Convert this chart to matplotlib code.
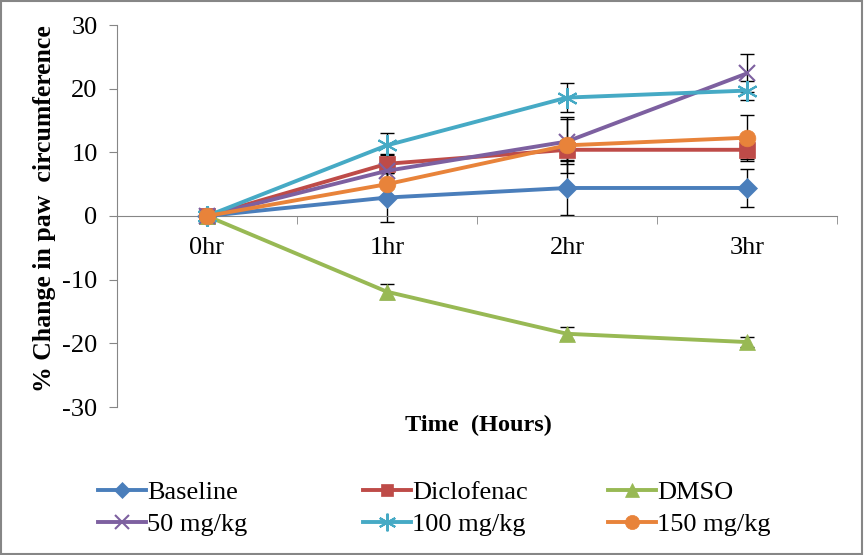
import numpy as np
import matplotlib.pyplot as plt
from matplotlib.patches import Rectangle

# categories
hours = ["0hr", "1hr", "2hr", "3hr"]

# series values (% change in paw circumference)
baseline = [0, 2.9, 4.4, 4.4]
diclofenac = [0, 8.2, 10.4, 10.4]
dmso = [0, -11.9, -18.5, -19.8]
mg50 = [0, 7.1, 11.7, 22.4]
mg100 = [0, 11.1, 18.6, 19.7]
mg150 = [0, 5.0, 11.1, 12.3]

# error bars (SEM)
baseline_err = [0, 3.9, 4.3, 3.0]
diclofenac_err = [0, 1.5, 1.6, 1.5]
dmso_err = [0, 1.2, 1.0, 0.8]
mg50_err = [0, 2.5, 3.5, 3.0]
mg100_err = [0, 2.0, 2.3, 1.5]
mg150_err = [0, 2.0, 4.4, 3.6]

series = [
    ("Baseline", baseline, baseline_err, "#4A7EBB", "D", 10),
    ("Diclofenac", diclofenac, diclofenac_err, "#BE4B48", "s", 11),
    ("DMSO", dmso, dmso_err, "#98B954", "^", 12),
    ("50 mg/kg", mg50, mg50_err, "#7D60A0", "x", 12),
    ("100 mg/kg", mg100, mg100_err, "#46AAC5", (6, 2, 0), 15),
    ("150 mg/kg", mg150, mg150_err, "#E8833A", "o", 12),
]

plt.rcParams["font.family"] = ["Liberation Serif", "DejaVu Serif"]
plt.rcParams["axes.unicode_minus"] = False

fig = plt.figure(figsize=(8.64, 5.55), dpi=100)
ax = fig.add_axes([117 / 864, 1 - 407 / 555, 720 / 864, 382 / 555])

x = np.arange(len(hours))
for name, vals, err, col, mk, ms in series:
    ax.errorbar(x, vals, yerr=err, fmt="none", ecolor="black", elinewidth=1,
                capsize=5, capthick=1, zorder=2)
handles = []
for name, vals, err, col, mk, ms in series:
    line, = ax.plot(x, vals, color=col, linewidth=2.8, marker=mk, markersize=ms,
                    markeredgewidth=1.5 if mk == "x" or isinstance(mk, tuple) else 0.5,
                    markeredgecolor=col, markerfacecolor=col, label=name, zorder=3)
    handles.append(line)

ax.set_xlim(-0.5, 3.5)
ax.set_ylim(-30, 30)
ax.set_yticks(np.arange(-30, 31, 10))
ax.set_xticks(x)
ax.set_xticklabels(hours)
ax.set_xticks(np.arange(-0.5, 3.6, 1), minor=True)

for s in ("top", "right"):
    ax.spines[s].set_visible(False)
ax.spines["bottom"].set_position(("data", 0))
ax.spines["bottom"].set_color("#868686")
ax.spines["left"].set_color("#868686")
ax.tick_params(axis="x", which="major", length=0, pad=15, labelsize=19)
ax.tick_params(axis="x", which="minor", length=6, color="#868686", direction="out")
ax.tick_params(axis="y", length=6, color="#868686", labelsize=19, pad=8)

fig.text(478 / 864, 1 - 425 / 555, "Time  (Hours)", ha="center", va="center",
         fontsize=17.5, fontweight="bold")
fig.text(45 / 864, 1 - 209 / 555, "% Change in paw  circumference", ha="center",
         va="center", rotation=90, fontsize=18.5, fontweight="bold")

# legend: three columns placed like the original, row-major order
col_x = [98, 363, 608]
for i, cx in enumerate(col_x):
    leg = fig.legend([handles[i], handles[i + 3]], [series[i][0], series[i + 3][0]],
                     loc="upper left", bbox_to_anchor=(cx / 864, 1 - 481 / 555),
                     frameon=False, fontsize=19, handlelength=1.8, handletextpad=0.05,
                     labelspacing=0.3, borderpad=0, borderaxespad=0, markerscale=0.85)

fig.patches.append(Rectangle((0.001, 0.001), 0.997, 0.997, transform=fig.transFigure,
                             fill=False, edgecolor="#868686", linewidth=1.5))

fig.savefig("out.png", dpi=100)
